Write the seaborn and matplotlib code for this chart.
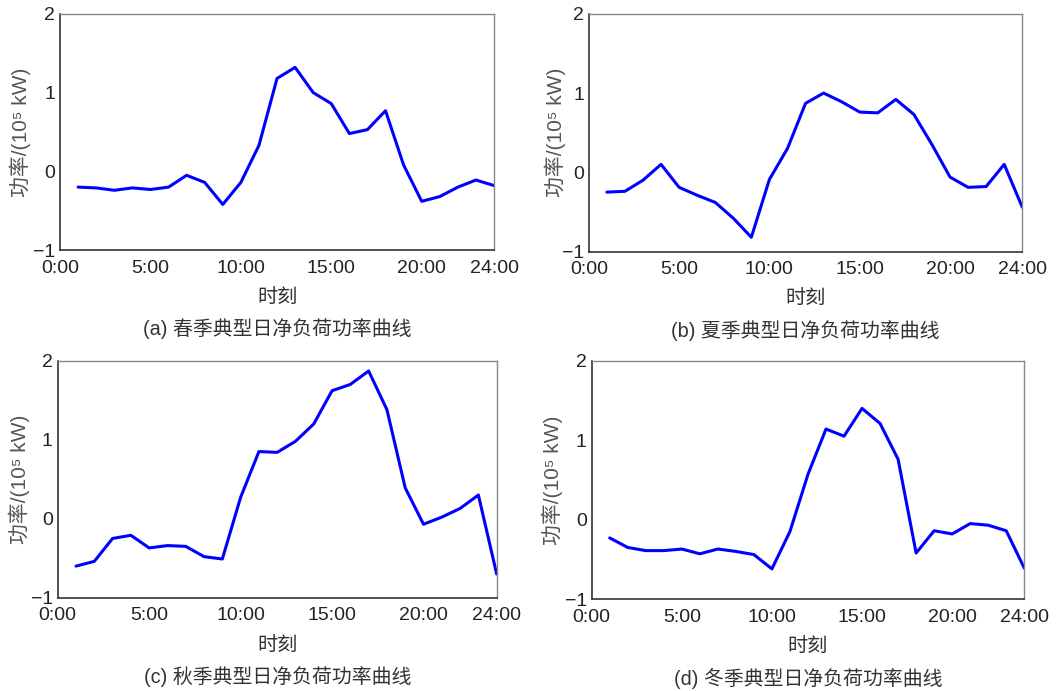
import numpy as np
import pandas as pd
import matplotlib
matplotlib.use("Agg")
import matplotlib.pyplot as plt
import seaborn as sns

# ---------------------------------------------------------------
# data: net load (10^5 kW) at hours 1..24 for four typical days
# ---------------------------------------------------------------
hours = list(range(1, 25))

spring = [-0.20, -0.21, -0.24, -0.21, -0.23, -0.20, -0.05, -0.14, -0.42, -0.14,
          0.33, 1.18, 1.32, 1.00, 0.86, 0.48, 0.53, 0.77, 0.08, -0.38,
          -0.32, -0.20, -0.11, -0.18]
summer = [-0.25, -0.24, -0.10, 0.10, -0.19, -0.29, -0.38, -0.58, -0.82, -0.09,
          0.30, 0.87, 1.00, 0.89, 0.76, 0.75, 0.92, 0.73, 0.35, -0.06,
          -0.19, -0.18, 0.10, -0.44]
autumn = [-0.60, -0.54, -0.25, -0.21, -0.37, -0.34, -0.35, -0.48, -0.51, 0.27,
          0.85, 0.84, 0.98, 1.20, 1.62, 1.70, 1.87, 1.38, 0.39, -0.07,
          0.02, 0.13, 0.30, -0.70]
winter = [-0.23, -0.35, -0.39, -0.39, -0.37, -0.43, -0.37, -0.40, -0.44, -0.62,
          -0.15, 0.57, 1.14, 1.05, 1.40, 1.21, 0.76, -0.42, -0.14, -0.18,
          -0.05, -0.07, -0.14, -0.61]

captions = ["(a) 春季典型日净负荷功率曲线", "(b) 夏季典型日净负荷功率曲线",
            "(c) 秋季典型日净负荷功率曲线", "(d) 冬季典型日净负荷功率曲线"]

xticks = [0, 5, 10, 15, 20, 24]
xtick_labels = ["0:00", "5:00", "10:00", "15:00", "20:00", "24:00"]
yticks = [-1, 0, 1, 2]
ytick_labels = ["\u22121", "0", "1", "2"]

sns.set_style("white")
plt.rcParams["font.family"] = ["Liberation Sans", "Noto Sans CJK SC", "DejaVu Sans"]

fig = plt.figure(figsize=(10.59, 6.91), dpi=100)

# axes rectangles in figure fractions [left, bottom, width, height]
rects = [
    [0.0567, 0.638, 0.4098, 0.342],
    [0.5560, 0.636, 0.4093, 0.344],
    [0.0545, 0.135, 0.4145, 0.343],
    [0.5587, 0.133, 0.4085, 0.345],
]
ylabel_x = [-0.066, -0.052, -0.064, -0.066]

series = [spring, summer, autumn, winter]
for rect, vals, cap, lx in zip(rects, series, captions, ylabel_x):
    ax = fig.add_axes(rect)
    df = pd.DataFrame({"hour": hours, "power": vals})
    sns.lineplot(data=df, x="hour", y="power", ax=ax, color="#0000ff",
                 linewidth=2.2)
    ax.set_xlim(0, 24)
    ax.set_ylim(-1, 2)
    ax.set_xticks(xticks)
    ax.set_xticklabels(xtick_labels)
    ax.set_yticks(yticks)
    ax.set_yticklabels(ytick_labels)
    ax.tick_params(axis="x", direction="in", length=4, width=0.8,
                   labelsize=14, colors="#333333", pad=7)
    ax.tick_params(axis="y", direction="inout", length=5, width=0.8,
                   labelsize=14, colors="#333333", pad=1)
    ax.tick_params(axis="both", labelcolor="#222222")
    for side in ["left", "bottom"]:
        ax.spines[side].set_color("#333333")
        ax.spines[side].set_linewidth(1.2)
    for side in ["top", "right"]:
        ax.spines[side].set_color("#888888")
        ax.spines[side].set_linewidth(1.0)
    ax.set_xlabel("时刻", fontsize=14.5, color="#333333", labelpad=8)
    ax.set_ylabel("功率/(10\u2075 kW)", fontsize=15, color="#555555")
    ax.yaxis.set_label_coords(lx, 0.5)
    ax.text(0.5, -0.333, cap, transform=ax.transAxes, ha="center", va="center",
            fontsize=14.3, color="#333333")

fig.savefig("out.png", dpi=100)
